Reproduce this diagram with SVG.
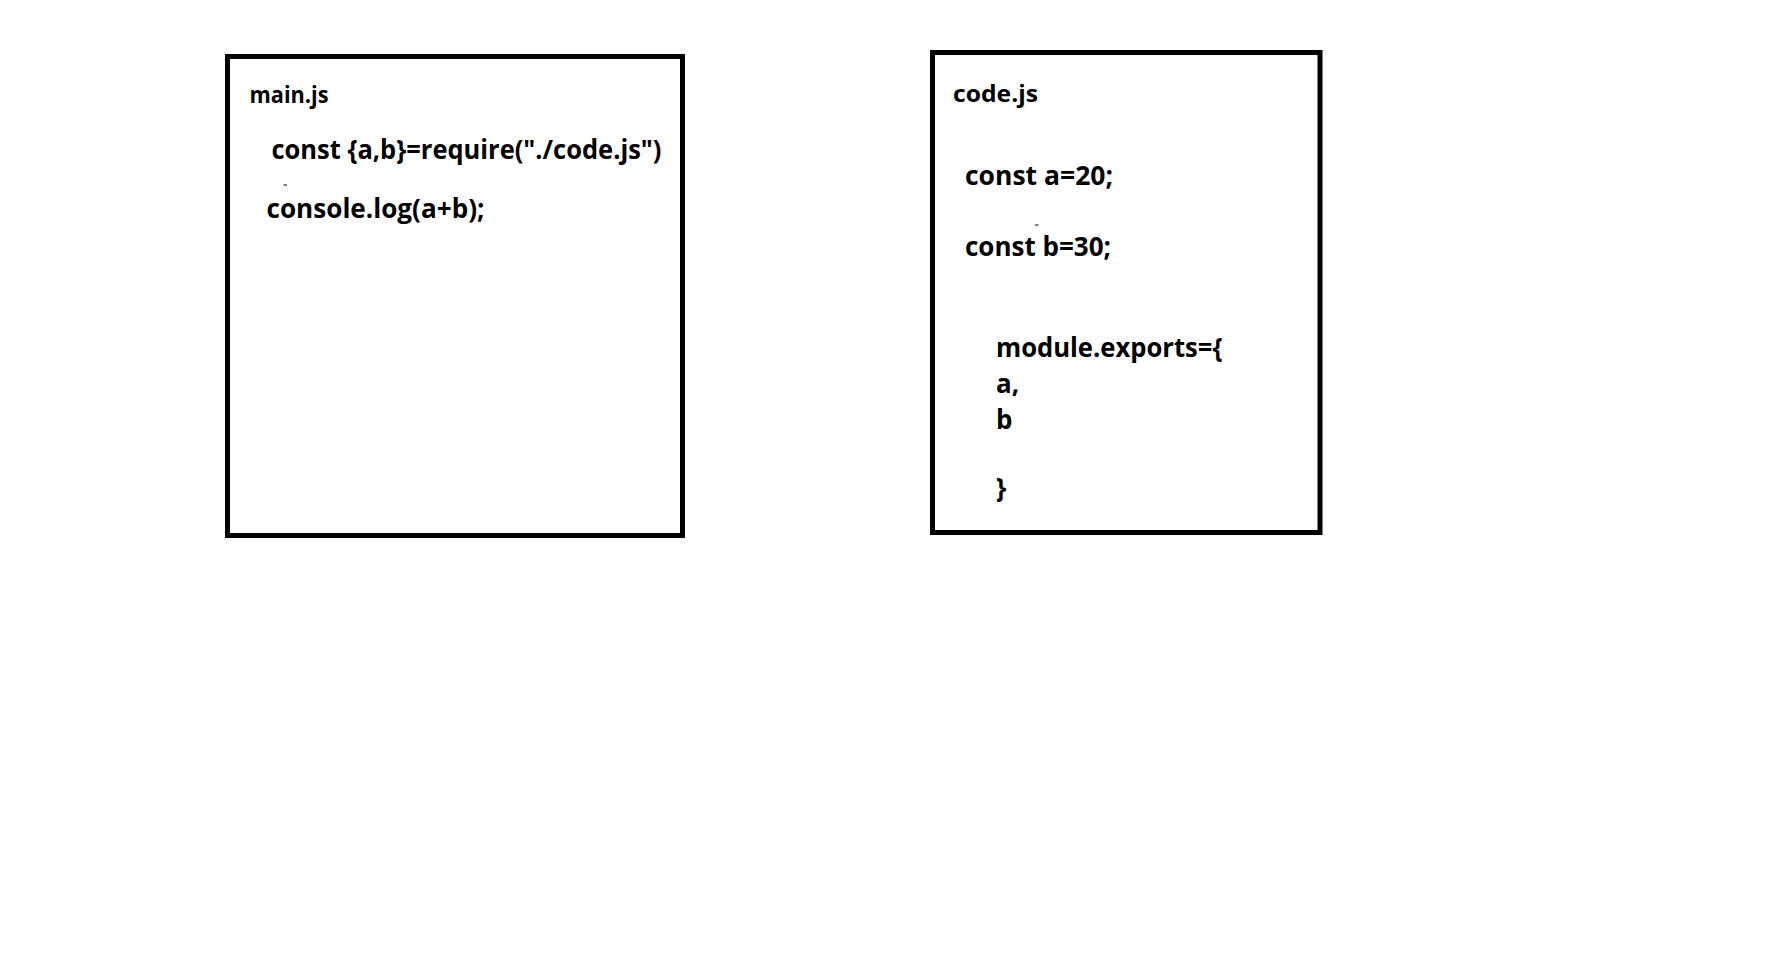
<svg xmlns="http://www.w3.org/2000/svg" width="1788" height="977" viewBox="0 0 1788 977">
  <style>
    .box { fill: #ffffff; stroke: #000000; stroke-width: 5; }
    .code { font-family: "Open Sans", "Noto Sans", "Liberation Sans", sans-serif; font-weight: 700; font-size: 26px; fill: #000000; }
    .title { font-family: "Open Sans", "Noto Sans", "Liberation Sans", sans-serif; font-weight: 700; font-size: 23px; fill: #000000; }
    .speck { stroke: #555555; stroke-width: 1.5; }
  </style>
  <rect x="0" y="0" width="1788" height="977" fill="#ffffff"/>
  <g id="main-js">
    <rect class="box" x="227.5" y="56.5" width="455" height="479"/>
    <text class="title" x="249.5" y="102.5" textLength="79" lengthAdjust="spacingAndGlyphs">main.js</text>
    <text class="code" x="271.5" y="158.5" textLength="390" lengthAdjust="spacingAndGlyphs">const {a,b}=require("./code.js")</text>
    <text class="code" x="266.5" y="217.5" textLength="218" lengthAdjust="spacingAndGlyphs">console.log(a+b);</text>
    <line class="speck" x1="283.5" y1="185" x2="287" y2="185"/>
  </g>
  <g id="code-js">
    <rect class="box" x="932.5" y="52.5" width="387.5" height="480"/>
    <text class="title" x="953" y="102" textLength="85" lengthAdjust="spacingAndGlyphs">code.js</text>
    <text class="code" x="965" y="185" textLength="148" lengthAdjust="spacingAndGlyphs">const a=20;</text>
    <text class="code" x="965" y="255.5" textLength="146" lengthAdjust="spacingAndGlyphs">const b=30;</text>
    <text class="code" x="996" y="357" textLength="226.5" lengthAdjust="spacingAndGlyphs">module.exports={</text>
    <text class="code" x="996" y="392.5">a,</text>
    <text class="code" x="996" y="429">b</text>
    <text class="code" x="996" y="497">}</text>
    <line class="speck" x1="1035" y1="225" x2="1038.5" y2="225"/>
  </g>
  <g id="connectors"></g>
</svg>
